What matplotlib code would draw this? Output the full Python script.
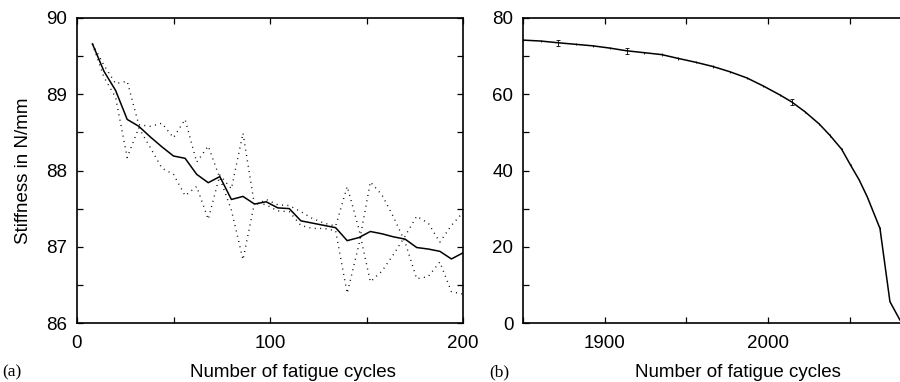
import numpy as np
import matplotlib
matplotlib.use("Agg")
import matplotlib.pyplot as plt
from matplotlib.ticker import MultipleLocator

plt.rcParams['font.family'] = ['Liberation Sans', 'DejaVu Sans']

# (a) Steifigkeit ueber die ersten 200 Zyklen
zyklen_a = [8, 14, 20, 26, 32, 38, 44, 50, 56, 62, 68, 74, 80, 86, 92, 98, 104,
            110, 116, 122, 128, 134, 140, 146, 152, 158, 164, 170, 176, 182, 188, 194, 200]
mittel = [89.66, 89.30, 89.05, 88.67, 88.58, 88.44, 88.31, 88.19, 88.16, 87.95, 87.84,
          87.92, 87.62, 87.66, 87.56, 87.59, 87.51, 87.50, 87.34, 87.31, 87.28, 87.25,
          87.08, 87.12, 87.20, 87.17, 87.13, 87.10, 86.99, 86.97, 86.94, 86.84, 86.92]
probe_1 = [89.66, 89.38, 89.14, 89.17, 88.60, 88.58, 88.62, 88.43, 88.67, 88.11, 88.32,
           87.90, 87.48, 86.83, 87.58, 87.55, 87.47, 87.46, 87.28, 87.24, 87.24, 87.21,
           86.39, 87.02, 87.85, 87.68, 87.39, 87.06, 86.58, 86.61, 86.80, 86.41, 86.38]
probe_2 = [89.66, 89.22, 88.96, 88.17, 88.56, 88.30, 88.03, 87.95, 87.67, 87.79, 87.36,
           87.94, 87.76, 88.49, 87.54, 87.62, 87.55, 87.54, 87.46, 87.37, 87.31, 87.27,
           87.79, 87.24, 86.54, 86.68, 86.90, 87.14, 87.40, 87.31, 87.06, 87.28, 87.45]

# (b) Steifigkeit bis zum Versagen
zyklen_b = [1850, 1860.8, 1871.6, 1882.2, 1892.7, 1903.3, 1913.5, 1924.3, 1934.9, 1945,
            1955.7, 1966.1, 1976.7, 1987, 1997, 2007.4, 2014.5, 2022.7, 2031.4, 2038,
            2045.1, 2050.6, 2055.9, 2060.8, 2068.6, 2074.7, 2080.8]
steifigkeit_b = [74.2, 73.96, 73.5, 73.1, 72.7, 72.1, 71.4, 70.9, 70.4, 69.4, 68.4, 67.3,
                 65.9, 64.3, 62.2, 59.8, 58.0, 55.4, 52.2, 49.2, 45.6, 41.4, 37.5, 33.1,
                 24.8, 5.6, 0.8]
fehler_b = [0.2, 0.3, 0.8, 0.3, 0.3, 0.3, 0.8, 0.3, 0.3, 0.3, 0.3, 0.3, 0.3, 0.3,
            0.3, 0.3, 0.8, 0.3, 0.3, 0.3, 0.3, 0.3, 0.3, 0.3, 0.3, 0.3, 0.3]

fig = plt.figure(figsize=(9, 3.82), dpi=100)
ax1 = fig.add_axes([77/900, 59/382, 386/900, 305/382])
ax2 = fig.add_axes([523/900, 59/382, 386/900, 305/382])

punkte = (0, (0.7, 3.2))
ax1.plot(zyklen_a, probe_1, color='black', lw=1.0, linestyle=punkte)
ax1.plot(zyklen_a, probe_2, color='black', lw=1.0, linestyle=punkte)
ax1.plot(zyklen_a, mittel, color='black', lw=1.1)
ax1.set_xlim(0, 200)
ax1.set_ylim(86, 90)
ax1.xaxis.set_major_locator(MultipleLocator(100))
ax1.xaxis.set_minor_locator(MultipleLocator(50))
ax1.yaxis.set_major_locator(MultipleLocator(1))
ax1.yaxis.set_minor_locator(MultipleLocator(0.5))
ax1.set_ylabel('Stiffness in N/mm', fontsize=13.5, labelpad=10)
ax1.set_xlabel('Number of fatigue cycles', fontsize=13.5)
ax1.xaxis.set_label_coords(0.56, -0.135)

# Linie, dann kleine Fehlerbalken (grosse mit Kappe)
ax2.plot(zyklen_b, steifigkeit_b, color='black', lw=1.1)
gross = [f >= 0.5 for f in fehler_b]
xb = np.array(zyklen_b)
yb = np.array(steifigkeit_b)
eb = np.array(fehler_b)
g = np.array(gross)
ax2.errorbar(xb[~g], yb[~g], yerr=eb[~g], fmt='none', ecolor='black', elinewidth=0.6, capsize=0)
ax2.errorbar(xb[g], yb[g], yerr=eb[g], fmt='none', ecolor='black', elinewidth=0.6,
             capsize=1.3, capthick=0.6)
ax2.set_xlim(1850, 1850 + 386/1.633)
ax2.set_ylim(0, 80)
ax2.xaxis.set_major_locator(MultipleLocator(100))
ax2.xaxis.set_minor_locator(MultipleLocator(50))
ax2.yaxis.set_major_locator(MultipleLocator(20))
ax2.yaxis.set_minor_locator(MultipleLocator(10))
ax2.set_xlabel('Number of fatigue cycles', fontsize=13.5)
ax2.xaxis.set_label_coords(0.556, -0.135)

for ax in (ax1, ax2):
    for s in ax.spines.values():
        s.set_linewidth(1.2)
    ax.tick_params(which='both', direction='in', top=True, right=True,
                   width=0.9, length=4.5, labelsize=13.5)
    ax.tick_params(axis='y', pad=7)
    ax.tick_params(axis='x', pad=9)

fig.text(2/900, 1 - 372/382, '(a)', family=['Liberation Serif'], fontsize=12.5, va='center')
fig.text(489/900, 1 - 372/382, '(b)', family=['Liberation Serif'], fontsize=12.5, va='center')

fig.savefig('out.png', dpi=100)
